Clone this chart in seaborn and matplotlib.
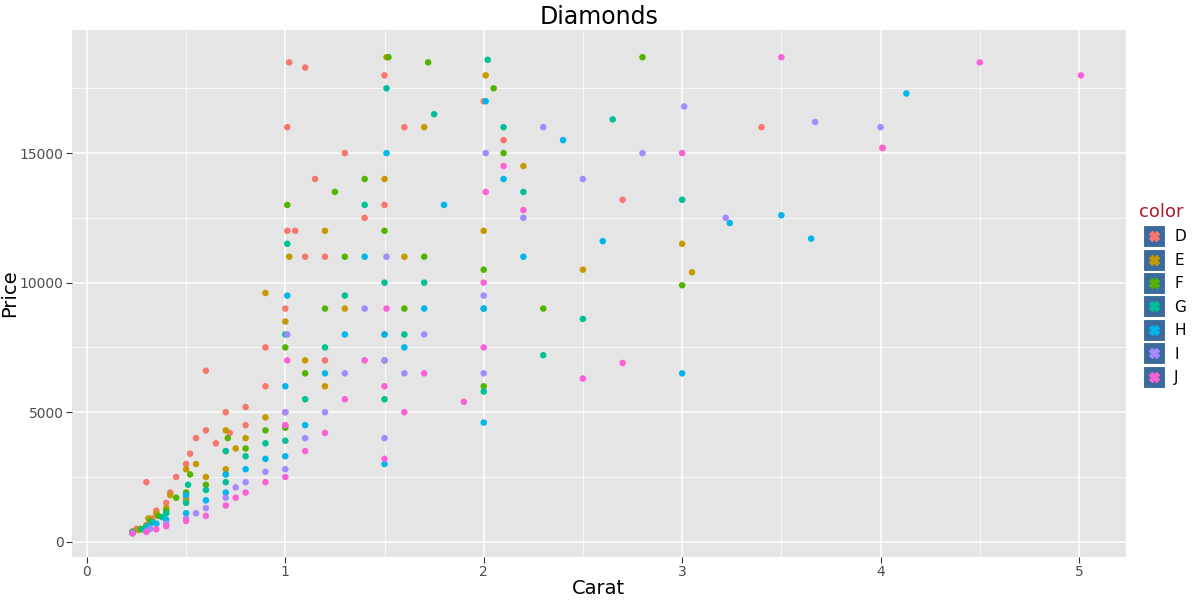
import matplotlib
matplotlib.use("Agg")
import matplotlib.pyplot as plt
import seaborn as sns
import pandas as pd
from matplotlib.lines import Line2D

grades = ["D", "E", "F", "G", "H", "I", "J"]
palette = ["#F8766D", "#C49A00", "#53B400", "#00C094", "#00B6EB", "#A58AFF", "#FB61D7"]

carat_D = [0.23,0.25,0.3,0.3,0.33,0.35,0.4,0.42,0.45,0.5,0.5,0.52,0.55,0.6,0.6,0.65,0.7,0.7,0.72,0.8,0.8,0.9,0.9,1.0,1.0,1.01,1.01,1.02,1.05,1.1,1.1,1.15,1.2,1.2,1.3,1.4,1.5,1.5,1.6,2.0,2.1,2.7,3.4,4.01]
price_D = [400,500,650,2300,900,1200,1500,1900,2500,1700,3000,3400,4000,4300,6600,3800,3500,5000,4200,4500,5200,6000,7500,5000,9000,12000,16000,18500,12000,11000,18300,14000,7000,11000,15000,12500,13000,18000,16000,17000,15500,13200,16000,15200]

carat_E = [0.23,0.26,0.3,0.31,0.35,0.4,0.42,0.5,0.5,0.55,0.6,0.7,0.7,0.75,0.8,0.9,0.9,1.0,1.0,1.02,1.1,1.2,1.2,1.3,1.5,1.5,1.51,1.6,1.7,2.0,2.01,2.2,2.5,3.0,3.05]
price_E = [350,450,600,900,1100,1300,1800,1600,2800,3000,2500,2800,4300,3600,4000,4800,9600,4500,8500,11000,7000,6000,12000,9000,8000,14000,18700,11000,16000,12000,18000,14500,10500,11500,10400]

carat_F = [0.23,0.27,0.3,0.32,0.36,0.4,0.45,0.5,0.52,0.6,0.7,0.71,0.8,0.9,1.0,1.0,1.01,1.1,1.2,1.25,1.3,1.4,1.5,1.5,1.52,1.6,1.7,1.72,2.0,2.0,2.05,2.1,2.3,2.8,3.0]
price_F = [380,500,600,800,1000,1200,1700,1900,2600,2200,2600,4000,3600,4300,4400,7500,13000,6500,9000,13500,11000,14000,7000,12000,18700,9000,11000,18500,6000,10500,17500,15000,9000,18700,9900]

carat_G = [0.23,0.28,0.3,0.33,0.38,0.4,0.5,0.51,0.6,0.7,0.7,0.8,0.9,1.0,1.0,1.01,1.1,1.2,1.3,1.4,1.5,1.5,1.51,1.6,1.7,1.75,2.0,2.0,2.02,2.1,2.2,2.3,2.5,2.65,3.0]
price_G = [370,480,550,750,950,1100,1500,2200,2000,2300,3500,3300,3800,3900,8000,11500,5500,7500,9500,13000,5500,10000,17500,8000,10000,16500,5800,9000,18600,16000,13500,7200,8600,16300,13200]

carat_H = [0.23,0.3,0.31,0.35,0.4,0.5,0.5,0.6,0.7,0.7,0.8,0.9,1.0,1.0,1.01,1.1,1.2,1.3,1.4,1.5,1.5,1.51,1.6,1.7,1.8,2.0,2.0,2.01,2.1,2.2,2.4,2.6,3.0,3.24,3.5,3.65,4.13]
price_H = [340,420,600,700,850,1100,1800,1600,1900,2600,2800,3200,3300,6000,9500,4500,6500,8000,11000,3000,8000,15000,7500,9000,13000,4600,9000,17000,14000,11000,15500,11600,6500,12300,12600,11700,17300]

carat_I = [0.23,0.3,0.32,0.4,0.5,0.55,0.6,0.7,0.75,0.8,0.9,1.0,1.0,1.01,1.1,1.2,1.3,1.4,1.5,1.5,1.51,1.6,1.7,2.0,2.0,2.01,2.2,2.3,2.5,2.8,3.01,3.22,3.67,4.0]
price_I = [330,400,500,700,900,1100,1300,1700,2100,2300,2700,2800,5000,8000,4000,5000,6500,9000,4000,7000,11000,6500,8000,6500,9500,15000,12500,16000,14000,15000,16800,12500,16200,16000]

carat_J = [0.23,0.3,0.35,0.4,0.5,0.6,0.7,0.75,0.8,0.9,1.0,1.0,1.01,1.1,1.2,1.3,1.4,1.5,1.5,1.51,1.6,1.7,1.9,2.0,2.0,2.01,2.1,2.2,2.5,2.7,3.0,3.5,4.01,4.5,5.01]
price_J = [320,380,480,600,800,1000,1400,1700,1900,2300,2500,4500,7000,3500,4200,5500,7000,3200,6000,9000,5000,6500,5400,7500,10000,13500,14500,12800,6300,6900,15000,18700,15200,18500,18000]

frames = []
for g, c, p in [("D", carat_D, price_D), ("E", carat_E, price_E), ("F", carat_F, price_F),
                ("G", carat_G, price_G), ("H", carat_H, price_H), ("I", carat_I, price_I),
                ("J", carat_J, price_J)]:
    frames.append(pd.DataFrame({"carat": c, "price": p, "color": g}))
df = pd.concat(frames, ignore_index=True)

fig, ax = plt.subplots(figsize=(12, 6), dpi=100)
fig.subplots_adjust(left=0.06, right=0.938, top=0.95, bottom=0.072)
ax.set_facecolor("#E5E5E5")
sns.scatterplot(data=df, x="carat", y="price", hue="color", hue_order=grades,
                palette=palette, s=22, linewidth=0, ax=ax, legend=False, zorder=3)
ax.set_xlim(-0.075, 5.235)
ax.set_ylim(-580, 19750)
ax.set_xticks([0, 1, 2, 3, 4, 5])
ax.set_yticks([0, 5000, 10000, 15000])
ax.set_xticks([0.5, 1.5, 2.5, 3.5, 4.5], minor=True)
ax.set_yticks([2500, 7500, 12500, 17500], minor=True)
ax.grid(which="major", color="white", linewidth=1.1, zorder=0)
ax.grid(which="minor", color="white", linewidth=0.5, zorder=0)
ax.set_axisbelow(True)
for s in ax.spines.values():
    s.set_visible(False)
ax.tick_params(which="both", length=0, labelsize=10, colors="#4D4D4D", pad=2)
ax.tick_params(which="major", length=4, color="#333333")
ax.set_xlabel("Carat", fontsize=14, labelpad=0)
ax.set_ylabel("Price", fontsize=14)
ax.yaxis.set_label_coords(-0.05, 0.5)
ax.set_title("Diamonds", fontsize=17, pad=4)

handles = [Line2D([], [], marker="X", linestyle="", color=c, markersize=7, label=g)
           for g, c in zip(grades, palette)]
leg = fig.legend(handles=handles, title="color", loc="center left", bbox_to_anchor=(0.944, 0.51),
                 frameon=False, fontsize=11, handletextpad=0.3, labelspacing=0.55, borderaxespad=0)
leg.set_zorder(5)
leg.get_title().set_color("#B2182B")
leg.get_title().set_fontsize(13)
leg._legend_box.align = "left"
fig.canvas.draw()
inv = fig.transFigure.inverted()
for h in leg.legend_handles:
    bb = h.get_window_extent()
    cx, cy = (bb.x0 + bb.x1) / 2, (bb.y0 + bb.y1) / 2
    x0, y0 = inv.transform((cx - 11, cy - 11))
    x1, y1 = inv.transform((cx + 11, cy + 11))
    fig.add_artist(plt.Rectangle((x0, y0), x1 - x0, y1 - y0, transform=fig.transFigure,
                                 facecolor="#3B6A9C", edgecolor="white", linewidth=0.8, zorder=1))
fig.savefig("out.png", dpi=100)
